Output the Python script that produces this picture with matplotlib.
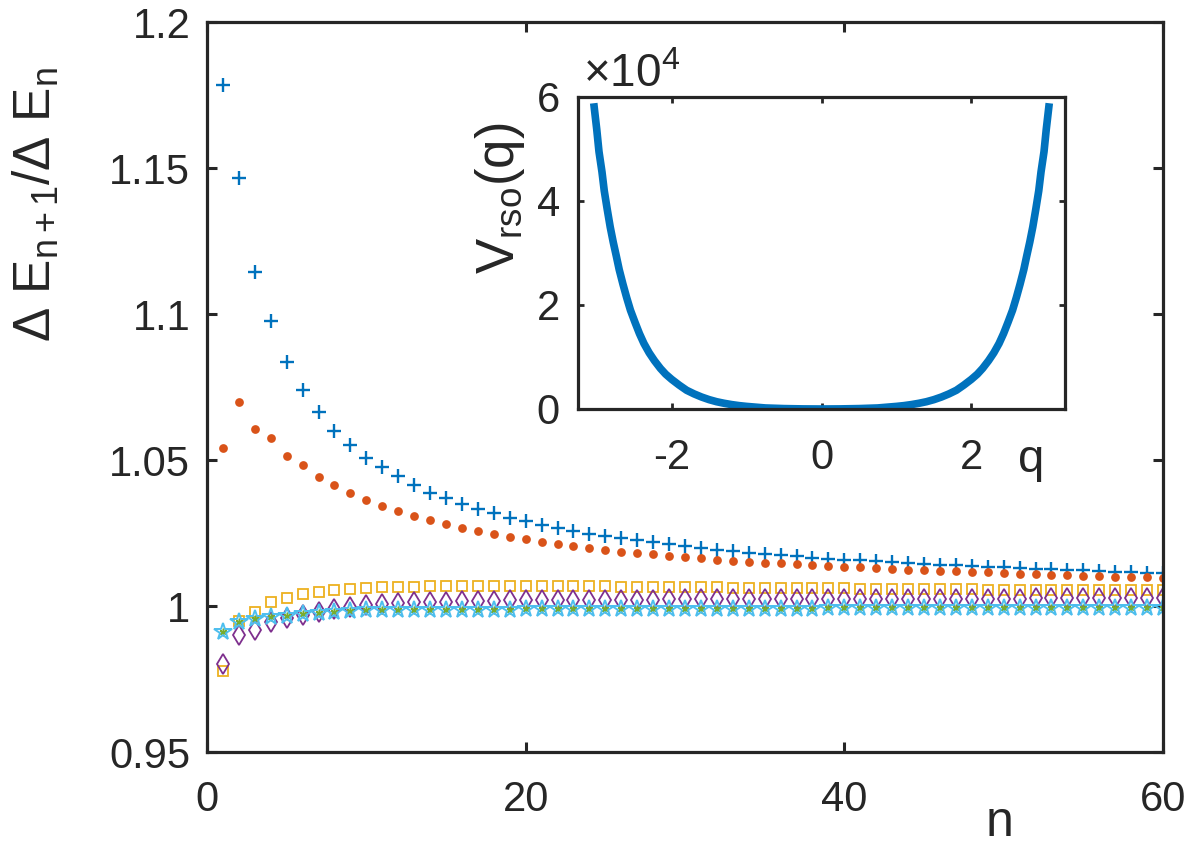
import numpy as np
import matplotlib
matplotlib.use("Agg")
import matplotlib.pyplot as plt

plt.rcParams['font.family'] = ['Liberation Sans', 'DejaVu Sans']
plt.rcParams['mathtext.fontset'] = 'custom'
plt.rcParams['mathtext.rm'] = 'Liberation Sans'
plt.rcParams['mathtext.it'] = 'Liberation Sans:italic'
plt.rcParams['axes.unicode_minus'] = False

# level index
n = np.arange(1, 61)

# ratio dE_{n+1}/dE_n for the six cases
ratio_plus = [1.1784, 1.1466, 1.1144, 1.0976, 1.0836, 1.0740, 1.0664, 1.0599, 1.0551, 1.0507,
              1.0476, 1.0445, 1.0414, 1.0387, 1.0370, 1.0349, 1.0332, 1.0318, 1.0301, 1.0291,
              1.0277, 1.0267, 1.0257, 1.0248, 1.0240, 1.0233, 1.0226, 1.0219, 1.0212, 1.0205,
              1.0199, 1.0193, 1.0188, 1.0183, 1.0178, 1.0174, 1.0170, 1.0166, 1.0162, 1.0159,
              1.0156, 1.0153, 1.0150, 1.0147, 1.0144, 1.0142, 1.0139, 1.0137, 1.0134, 1.0132,
              1.0130, 1.0128, 1.0126, 1.0124, 1.0122, 1.0120, 1.0118, 1.0116, 1.0114, 1.0112]
ratio_dot = [1.0542, 1.0700, 1.0606, 1.0574, 1.0515, 1.0482, 1.0442, 1.0414, 1.0386, 1.0363,
             1.0342, 1.0325, 1.0308, 1.0295, 1.0280, 1.0266, 1.0258, 1.0247, 1.0237, 1.0228,
             1.0220, 1.0213, 1.0206, 1.0199, 1.0192, 1.0186, 1.0181, 1.0177, 1.0171, 1.0167,
             1.0163, 1.0159, 1.0155, 1.0152, 1.0148, 1.0146, 1.0143, 1.0140, 1.0137, 1.0135,
             1.0132, 1.0129, 1.0127, 1.0125, 1.0123, 1.0121, 1.0119, 1.0117, 1.0115, 1.0113,
             1.0111, 1.0109, 1.0107, 1.0106, 1.0104, 1.0103, 1.0101, 1.0100, 1.0098, 1.0097]
ratio_square = [0.9778, 0.9948, 0.9980, 1.0012, 1.0026, 1.0041, 1.0049, 1.0055, 1.0058, 1.0061,
                1.0064, 1.0065, 1.0066, 1.0067, 1.0067, 1.0068, 1.0068, 1.0068, 1.0068, 1.0068,
                1.0068, 1.0067, 1.0067, 1.0067, 1.0067, 1.0066, 1.0066, 1.0066, 1.0065, 1.0065,
                1.0064, 1.0064, 1.0063, 1.0063, 1.0062, 1.0062, 1.0061, 1.0061, 1.0060, 1.0060,
                1.0059, 1.0059, 1.0058, 1.0058, 1.0058, 1.0057, 1.0057, 1.0057, 1.0056, 1.0056,
                1.0056, 1.0055, 1.0055, 1.0055, 1.0055, 1.0054, 1.0054, 1.0054, 1.0054, 1.0054]
ratio_diamond = [0.9801, 0.9901, 0.9918, 0.9946, 0.9958, 0.9969, 0.9981, 0.9989, 0.9998, 1.0003,
                 1.0007, 1.0009, 1.0012, 1.0013, 1.0015, 1.0016, 1.0017, 1.0018, 1.0019, 1.0020,
                 1.0020, 1.0021, 1.0021, 1.0021, 1.0022, 1.0022, 1.0022, 1.0022, 1.0023, 1.0023,
                 1.0023, 1.0023, 1.0023, 1.0023, 1.0024, 1.0024, 1.0024, 1.0024, 1.0024, 1.0024,
                 1.0024, 1.0024, 1.0025, 1.0025, 1.0025, 1.0025, 1.0025, 1.0025, 1.0025, 1.0025,
                 1.0025, 1.0026, 1.0026, 1.0026, 1.0026, 1.0026, 1.0026, 1.0026, 1.0026, 1.0026]
ratio_asterisk = [0.9912, 0.9946, 0.9954, 0.9961, 0.9966, 0.9971, 0.9977, 0.9981, 0.9984, 0.9985,
                  0.9986, 0.9986, 0.9987, 0.9987, 0.9987, 0.9988, 0.9988, 0.9988, 0.9988, 0.9989,
                  0.9989, 0.9989, 0.9989, 0.9989, 0.9990, 0.9990, 0.9990, 0.9990, 0.9990, 0.9990,
                  0.9991, 0.9991, 0.9991, 0.9991, 0.9991, 0.9991, 0.9991, 0.9991, 0.9992, 0.9992,
                  0.9992, 0.9992, 0.9992, 0.9992, 0.9992, 0.9992, 0.9992, 0.9992, 0.9992, 0.9992,
                  0.9992, 0.9992, 0.9992, 0.9992, 0.9992, 0.9992, 0.9992, 0.9992, 0.9992, 0.9992]
ratio_star = list(ratio_asterisk)

# inset potential V_rso(q)
q_vals = [-3.04, -3.00, -2.97, -2.93, -2.90, -2.86, -2.82, -2.78, -2.74, -2.70, -2.65,
          -2.60, -2.55, -2.49, -2.43, -2.37, -2.30, -2.23, -2.15, -2.08, -2.00,
          -1.90, -1.80, -1.70, -1.60, -1.50, -1.40, -1.30, -1.20, -1.10, -1.00,
          -0.75, -0.50, -0.25, 0.0,
          0.25, 0.50, 0.75, 1.00, 1.10, 1.20, 1.30, 1.40, 1.50, 1.60, 1.70, 1.80, 1.90,
          2.00, 2.08, 2.15, 2.23, 2.30, 2.37, 2.43, 2.49, 2.55, 2.60, 2.65, 2.70,
          2.74, 2.78, 2.82, 2.86, 2.90, 2.93, 2.97, 3.00, 3.04]
v_rso = [58800, 53800, 49500, 45600, 42000, 38400, 35000, 32100, 29500, 26800, 24000,
         21400, 19000, 16700, 14500, 12600, 10800, 9300, 7800, 6700, 5700,
         4600, 3600, 2900, 2300, 1800, 1400, 1100, 850, 650, 500,
         200, 80, 20, 0,
         20, 80, 200, 500, 650, 850, 1100, 1400, 1800, 2300, 2900, 3600, 4600,
         5700, 6700, 7800, 9300, 10800, 12600, 14500, 16700, 19000, 21400, 24000, 26800,
         29500, 32100, 35000, 38400, 42000, 45600, 49500, 53800, 58800]

y_ticks = [0.95, 1.0, 1.05, 1.1, 1.15, 1.2]
y_ticklabels = ['0.95', '1', '1.05', '1.1', '1.15', '1.2']
x_ticks = [0, 20, 40, 60]
inset_xticks = [-2, 0, 2]
inset_yticks = [0, 20000, 40000, 60000]
inset_yticklabels = ['0', '2', '4', '6']

blue = '#0072BD'
orange = '#D95319'
yellow = '#EDB120'
purple = '#7E2F8E'
green = '#77AC30'
cyan = '#4DBEEE'
axcol = '#262626'

W, H = 1192, 848
fig = plt.figure(figsize=(W / 100, H / 100), dpi=100)

ax = fig.add_axes([207 / W, 1 - 752 / H, (1163 - 207) / W, (752 - 22) / H])
ax.plot(n, ratio_plus, ls='none', marker='+', ms=10.5, mew=1.7, color=blue)
ax.plot(n, ratio_dot, ls='none', marker='o', ms=6.3, mew=0, color=orange)
ax.plot(n, ratio_square, ls='none', marker='s', ms=7.5, mew=1.3, mfc='none', mec=yellow)
ax.plot(n, ratio_diamond, ls='none', marker='d', ms=10.5, mew=1.3, mfc='none', mec=purple)
ax.plot(n, ratio_asterisk, ls='none', marker=(6, 2, 0), ms=5.5, mew=1.1, color=green)
ax.plot(n, ratio_star, ls='none', marker='*', ms=13, mew=1.4, mfc='none', mec=cyan)

ax.set_xlim(0, 60)
ax.set_ylim(0.95, 1.2)
ax.set_xticks(x_ticks)
ax.set_yticks(y_ticks)
ax.set_yticklabels(y_ticklabels)
ax.tick_params(direction='in', length=7, width=2.2, labelsize=30, colors=axcol,
               top=True, right=True)
ax.tick_params(axis='y', pad=12)
ax.tick_params(axis='x', pad=20)
for s in ax.spines.values():
    s.set_linewidth(2.3)
    s.set_color(axcol)

fig.text(36 / W, 1 - 205 / H, r'$\mathregular{\Delta\ E_{n+1}/\Delta\ E_n}$',
         rotation=90, ha='center', va='center', fontsize=37, color=axcol)
fig.text(1000 / W, 1 - 846 / H, 'n', ha='center', va='bottom', fontsize=36, color=axcol)

# inset
ax2 = fig.add_axes([578 / W, 1 - 409 / H, (1065 - 578) / W, (409 - 97) / H])
ax2.plot(q_vals, v_rso, color=blue, lw=5.5, solid_capstyle='butt', solid_joinstyle='round')
ax2.set_xlim(-3.25, 3.25)
ax2.set_ylim(0, 60000)
ax2.set_xticks(inset_xticks)
ax2.set_yticks(inset_yticks)
ax2.set_yticklabels(inset_yticklabels)
ax2.tick_params(direction='in', length=4, width=2.0, labelsize=30, colors=axcol,
                top=True, right=True)
ax2.tick_params(axis='y', pad=13)
ax2.tick_params(axis='x', pad=21)
for s in ax2.spines.values():
    s.set_linewidth(2.3)
    s.set_color(axcol)

fig.text(583 / W, 1 - 87 / H, r'$\mathregular{\times 10^4}$', ha='left', va='baseline',
         fontsize=33, color=axcol)
fig.text(500 / W, 1 - 198 / H, r'$\mathregular{V_{rso}(q)}$', rotation=90,
         ha='center', va='center', fontsize=38, color=axcol)
fig.text(1031 / W, 1 - 472 / H, 'q', ha='center', va='baseline', fontsize=34, color=axcol)

fig.savefig('out.png', dpi=100, facecolor='white')
